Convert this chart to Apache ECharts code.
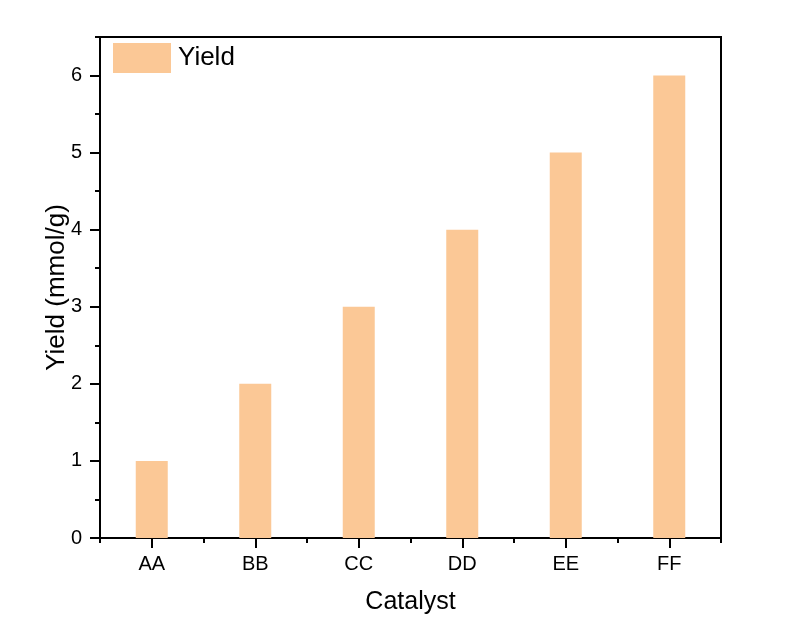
<!DOCTYPE html>
<html><head><meta charset="utf-8">
<script src="https://cdn.jsdelivr.net/npm/echarts@6/dist/echarts.min.js"></script>
<style>html,body{margin:0;padding:0;background:#fff}#c{width:788px;height:642px}</style>
</head><body><div id="c"></div>
<script>
const categories = ['AA','BB','CC','DD','EE','FF'];
const yieldValues = [1, 2, 3, 4, 5, 6];
const yTicks = [0, 1, 2, 3, 4, 5, 6];
const seriesName = 'Yield';
const xTitle = 'Catalyst';
const yTitle = 'Yield (mmol/g)';

const chart = echarts.init(document.getElementById('c'));
const font = 'Liberation Sans, Arial, sans-serif';
const black = '#000';
chart.setOption({
  animation: false,
  backgroundColor: '#fff',
  grid: { left: 100, right: 67, top: 37, bottom: 104, show: true, borderColor: black, borderWidth: 2, backgroundColor: 'transparent' },
  legend: {
    show: true, left: 108, top: 38, itemWidth: 58, itemHeight: 30, itemGap: 8,
    textStyle: { fontFamily: font, fontSize: 26, color: black, padding: [0, 0, 0, 2] },
    data: [{ name: seriesName, icon: 'rect' }]
  },
  xAxis: [{
    type: 'category', data: categories, position: 'bottom',
    name: xTitle, nameLocation: 'middle', nameGap: 52, nameMoveOverlap: false,
    nameTextStyle: { fontFamily: font, fontSize: 25, color: black },
    axisLine: { show: true, lineStyle: { color: black, width: 2 } },
    axisTick: { show: true, alignWithLabel: true, length: 10, lineStyle: { color: black, width: 2 } },
    axisLabel: { fontFamily: font, fontSize: 20, color: black, margin: 16 },
    splitLine: { show: false }
  }, {
    type: 'category', data: categories, position: 'bottom', gridIndex: 0,
    axisLine: { show: false },
    axisTick: { show: true, alignWithLabel: false, length: 5, lineStyle: { color: black, width: 2 } },
    axisLabel: { show: false }, splitLine: { show: false }
  }],
  yAxis: [{
    type: 'value', min: 0, max: 6.5, interval: 1, position: 'left',
    name: yTitle, nameLocation: 'middle', nameGap: 30, nameRotate: 90, nameMoveOverlap: false,
    nameTextStyle: { fontFamily: font, fontSize: 26, color: black },
    axisLine: { show: true, lineStyle: { color: black, width: 2 } },
    axisTick: { show: true, length: 10, customValues: yTicks, lineStyle: { color: black, width: 2 } },
    axisLabel: { fontFamily: font, fontSize: 20, color: black, margin: 18, customValues: yTicks },
    splitLine: { show: false }
  }, {
    type: 'value', min: 0, max: 6.5, interval: 0.5, position: 'left', offset: 0,
    axisLine: { show: false },
    axisTick: { show: true, length: 5, lineStyle: { color: black, width: 2 } },
    axisLabel: { show: false }, splitLine: { show: false }
  }],
  series: [{
    name: seriesName, type: 'bar', data: yieldValues, barWidth: 32,
    xAxisIndex: 0, yAxisIndex: 0,
    itemStyle: { color: '#FBC896' }
  }]
});
</script></body></html>
